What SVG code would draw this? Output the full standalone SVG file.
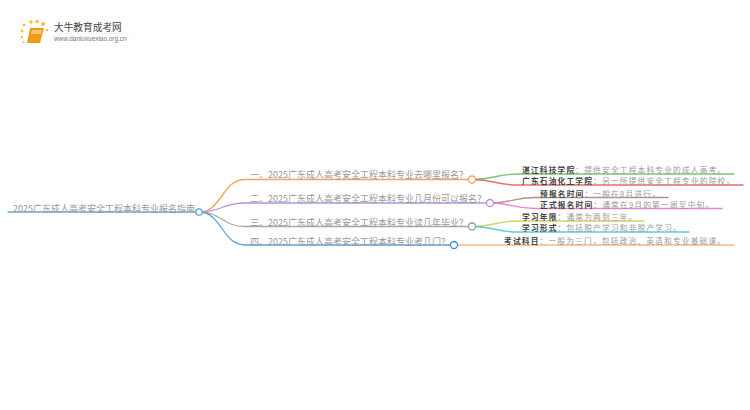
<svg xmlns="http://www.w3.org/2000/svg" width="750" height="410" viewBox="0 0 750 410">
<style>
text{font-family:"Noto Sans CJK SC","Liberation Sans",sans-serif;font-size:9px;fill:#999}
.a{font-size:7.700px;letter-spacing:1.200px}
.b{font-weight:700;fill:#444}
.l{fill:none;stroke-width:1.3;stroke-linecap:round}
.n{fill:#fff;stroke-width:1.300}
</style>
<rect width="750" height="410" fill="#fff"/>
<g id="logo">
<g fill="#f9c23c"><circle cx="22" cy="37" r="1.200"/><circle cx="22" cy="31" r="1.400"/><circle cx="24" cy="25" r="1.600"/><circle cx="31" cy="22" r="1.800"/><circle cx="37" cy="21.500" r="1.800"/><circle cx="43" cy="24" r="2"/><circle cx="47" cy="30" r="1.300"/><circle cx="23.500" cy="42" r="1"/></g>
<path d="M30 28H44L40 43H27Z" fill="#f09a1a"/><path d="M32 30H42L41 34H31Z" fill="#fbc76a"/>
<text x="54" y="31" style="font-size:9.700px;fill:#444">大牛教育成考网</text>
<text x="54" y="41" style="font-family:'Liberation Sans',sans-serif;font-size:6.400px;fill:#777">www.daniuxuexiao.org.cn</text>
<path d="M54 33.500H132" stroke="#eee" stroke-width=".6"/>
</g>
<g id="connectors">
<path class="l" stroke="#6fa8d6" d="M8 212H199"/>
<path class="l" stroke="#f5a35f" d="M199 212C222 212 222 179.500 245 179.500H472"/>
<path class="l" stroke="#b993d6" d="M199 212C222 212 222 203 245 203H490"/>
<path class="l" stroke="#aaa" d="M199 212C222 212 222 226.500 245 226.500H472"/>
<path class="l" stroke="#5ea3d9" d="M199 212C222 212 222 245 245 245H454"/>
<path class="l" stroke="#7cc576" d="M472 179.500C495 179.500 495 174 518 174H734"/>
<path class="l" stroke="#ef6b6b" d="M472 179.500C495 179.500 495 185 518 185H743"/>
<path class="l" stroke="#b5928a" d="M490 203C512 203 512 197.500 535 197.500H668"/>
<path class="l" stroke="#ee82cf" d="M490 203C512 203 512 208.500 535 208.500H722"/>
<path class="l" stroke="#d6d35f" d="M472 226.500C495 226.500 495 221 518 221H644"/>
<path class="l" stroke="#55cfe0" d="M472 226.500C495 226.500 495 232 518 232H689"/>
<path class="l" stroke="#f9b98a" d="M454 245H734"/>
</g>
<g id="root"><text x="13" y="211.500">2025广东成人高考安全工程本科专业报名指南</text><circle class="n" cx="199" cy="212" r="3.200" stroke="#5a9fd0"/></g>
<g id="q1"><text x="250" y="178">一、2025广东成人高考安全工程本科专业去哪里报名？</text><circle class="n" cx="472" cy="179.500" r="3.500" stroke="#f5a35f"/></g>
<g id="q2"><text x="250" y="201.500">二、2025广东成人高考安全工程本科专业几月份可以报名？</text><circle class="n" cx="490" cy="203" r="3.500" stroke="#b993d6"/></g>
<g id="q3"><text x="250" y="225.500">三、2025广东成人高考安全工程本科专业读几年毕业？</text><circle class="n" cx="472" cy="226.500" r="3.500" stroke="#999"/></g>
<g id="q4"><text x="250" y="244.500">四、2025广东成人高考安全工程本科专业考几门？</text><circle class="n" cx="454" cy="245" r="3.500" stroke="#3f8fd2"/></g>
<g id="a1"><text class="a" x="522" y="172.800"><tspan class="b">湛江科技学院</tspan>：提供安全工程本科专业的成人高考。</text></g>
<g id="a2"><text class="a" x="522" y="184"><tspan class="b">广东石油化工学院</tspan>：另一所提供安全工程专业的院校。</text></g>
<g id="a3"><text class="a" x="540" y="196.500"><tspan class="b">预报名时间</tspan>：一般在8月进行。</text></g>
<g id="a4"><text class="a" x="540" y="208"><tspan class="b">正式报名时间</tspan>：通常在9月的第一周至中旬。</text></g>
<g id="a5"><text class="a" x="522" y="219.700"><tspan class="b">学习年限</tspan>：通常为两到三年。</text></g>
<g id="a6"><text class="a" x="522" y="231"><tspan class="b">学习形式</tspan>：包括脱产学习和非脱产学习。</text></g>
<g id="a7"><text class="a" x="504" y="244"><tspan class="b">考试科目</tspan>：一般为三门，包括政治、英语和专业基础课。</text></g>
</svg>
